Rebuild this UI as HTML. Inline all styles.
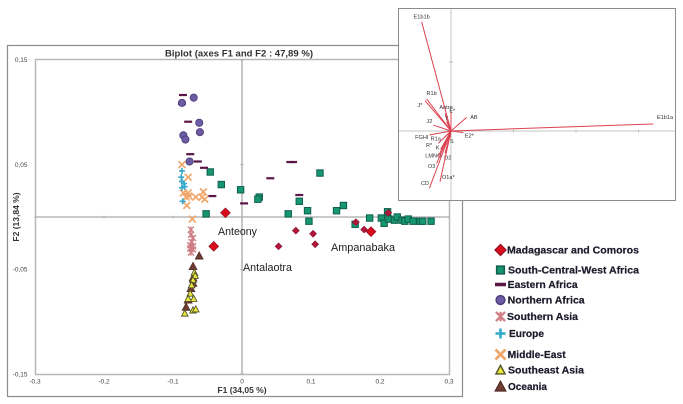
<!DOCTYPE html>
<html lang="en">
<head>
<meta charset="utf-8">
<title>Biplot (axes F1 and F2)</title>
<style>
html,body{margin:0;padding:0;background:#fff;}
body{width:683px;height:404px;overflow:hidden;}
svg{display:block;}
text{font-family:"Liberation Sans",sans-serif;}
</style>
</head>
<body>
<svg id="chart" width="683" height="404" viewBox="0 0 683 404" xmlns="http://www.w3.org/2000/svg">
<defs>
<filter id="soft" x="-5%" y="-5%" width="110%" height="110%"><feGaussianBlur stdDeviation="0.3"/></filter>
</defs>
<rect x="0" y="0" width="683" height="404" fill="#fff"/>
<g id="main" filter="url(#soft)">
<rect x="7.5" y="45.5" width="455" height="351" fill="#fff" stroke="#8c8c8c" stroke-width="1.2"/>
<rect x="35.5" y="59.5" width="414" height="315" fill="#fff" stroke="#b8b8b8" stroke-width="1.5"/>
<text x="239" y="56.5" font-size="9" font-weight="bold" text-anchor="middle" textLength="148" lengthAdjust="spacingAndGlyphs" fill="#333">Biplot (axes F1 and F2 : 47,89 %)</text>
<text x="242" y="393" font-size="8.5" font-weight="bold" text-anchor="middle" fill="#333">F1 (34,05 %)</text>
<text transform="translate(19,217) rotate(-90)" font-size="8.5" font-weight="bold" text-anchor="middle" fill="#333">F2 (13,84 %)</text>
<g id="axes"></g>
<g id="marks"></g>
<text x="218" y="235" font-size="11" textLength="39" lengthAdjust="spacingAndGlyphs" fill="#222">Anteony</text>
<text x="243" y="271" font-size="11" textLength="49" lengthAdjust="spacingAndGlyphs" fill="#222">Antalaotra</text>
<text x="331" y="251" font-size="11" textLength="64" lengthAdjust="spacingAndGlyphs" fill="#222">Ampanabaka</text>
</g>
<g id="inset" filter="url(#soft)">
<rect x="398.5" y="8.5" width="277" height="192" fill="#fff" stroke="#8c8c8c" stroke-width="1"/>
</g>
<g id="legend" filter="url(#soft)"></g>
</svg>
<script>
// Tick labels
const xTicks = [-0.3, -0.2, -0.1, 0, 0.1, 0.2, 0.3];
const yTicks = [0.15, 0.05, -0.05, -0.15];
const insetXTicks = [0.5, 1, 1.5];
const insetYTicks = [0.5];

// Series values as [F1, F2]
const madagascarMajor = [[-0.024,0.004],[-0.041,-0.028],[0.187,-0.014]];
const madagascarMinor = [[0.078,-0.013],[0.103,-0.016],[0.106,-0.026],[0.053,-0.028],[0.165,-0.005],[0.177,-0.012],[0.212,0.004]];
const southCentralWestAfrica = [[-0.046,0.043],[-0.030,0.031],[-0.002,0.026],[0.025,0.019],[0.023,0.017],[-0.052,0.003],[0.067,0.003],[0.083,0.015],[0.095,0.006],[0.097,-0.004],[0.113,0.042],[0.137,0.006],[0.147,0.011],[0.164,-0.007],[0.185,-0.001],[0.202,-0.001],[0.211,0.005],[0.206,-0.006],[0.213,-0.002],[0.221,-0.003],[0.225,0],[0.232,-0.003],[0.236,-0.004],[0.241,-0.002],[0.248,-0.004],[0.258,-0.004],[0.262,-0.004],[0.274,-0.004]];
const easternAfrica = [[-0.0855,0.1165],[-0.087,0.108],[-0.078,0.091],[-0.075,0.060],[-0.064,0.053],[-0.055,0.047],[-0.043,0.020],[0.003,0.013],[0.041,0.037],[0.070,0.0525],[0.074,0.0525],[0.083,0.021]];
const northernAfrica = [[-0.070,0.114],[-0.087,0.109],[-0.062,0.090],[-0.061,0.081],[-0.085,0.078],[-0.082,0.074],[-0.076,0.053]];
const southernAsia = [[-0.074,-0.012],[-0.074,-0.017],[-0.071,-0.020],[-0.073,-0.024],[-0.075,-0.027],[-0.071,-0.028],[-0.075,-0.030],[-0.071,-0.031],[-0.074,-0.034]];
const europe = [[-0.087,0.044],[-0.088,0.038],[-0.087,0.034],[-0.084,0.032],[-0.087,0.028],[-0.083,0.029],[-0.086,0.015]];
const middleEast = [[-0.087,0.050],[-0.078,0.038],[-0.085,0.023],[-0.078,0.023],[-0.077,0.020],[-0.081,0.019],[-0.067,0.019],[-0.056,0.024],[-0.058,0.019],[-0.054,0.017],[-0.080,0.011],[-0.072,-0.002]];
const oceania = [[-0.062,-0.037],[-0.071,-0.047],[-0.071,-0.058],[-0.071,-0.063],[-0.074,-0.068],[-0.078,-0.079],[-0.081,-0.086]];
const southeastAsia = [[-0.069,-0.053],[-0.068,-0.056],[-0.071,-0.060],[-0.073,-0.065],[-0.075,-0.073],[-0.078,-0.078],[-0.070,-0.078],[-0.083,-0.092],[-0.071,-0.089],[-0.067,-0.088]];

// Inset loading vectors
const vectorNames = ["E1b1b","E1b1a","R1b","J*","Autre","E*","T","AB","J2","FGHI","R1a","R*","K","LMNO","O2","O3","CD","O1a*","S","E2*"];
const vectorF1 = [-0.235,1.619,-0.195,-0.208,-0.048,0,-0.035,0.125,-0.141,-0.173,-0.053,-0.101,-0.083,-0.101,-0.048,-0.115,-0.173,-0.088,-0.008,0.099];
const vectorF2 = [0.792,0.051,0.232,0.220,0.128,0.14,0.068,0.099,0.043,-0.029,-0.046,-0.089,-0.133,-0.181,-0.162,-0.234,-0.415,-0.367,-0.053,-0.012];

// Legend labels
const legendLabels = ["Madagascar and Comoros","South-Central-West Africa","Eastern Africa","Northern Africa","Southern Asia","Europe","Middle-East","Southeast Asia","Oceania"];

const NS = "http://www.w3.org/2000/svg";
const xScale = v => 242 + v * 690;
const yScale = v => 217 - v * 1047;
const insetX = v => 451 + v * 125;
const insetY = v => 131 - v * 138;
const fmt = v => String(v).replace(".", ",");

function make(parent, tag, attrs) {
  const el = document.createElementNS(NS, tag);
  for (const k in attrs) el.setAttribute(k, attrs[k]);
  parent.appendChild(el);
  return el;
}

function drawShape(parent, kind, x, y, size, weight) {
  const s = size;
  const w = weight || 1;
  if (kind === "diamond") {
    return make(parent, "polygon", {points:`${x},${y-s} ${x+s},${y} ${x},${y+s} ${x-s},${y}`, fill:s > 4 ? "#d9101f" : "#b5143a", stroke:s > 4 ? "#9c1020" : "#8f1233", "stroke-width":0.8*w});
  }
  if (kind === "square") {
    return make(parent, "rect", {x:x-s, y:y-s, width:s*2, height:s*2, fill:"#17976f", stroke:"#0f5f50", "stroke-width":1*w});
  }
  if (kind === "dash") {
    return make(parent, "rect", {x:x-s, y:y-1.1*w, width:s*2, height:2.2*w, fill:"#5c1746"});
  }
  if (kind === "circle") {
    return make(parent, "circle", {cx:x, cy:y, r:s, fill:"#6d5ca3", stroke:"#4b3c7a", "stroke-width":0.9*w});
  }
  if (kind === "star") {
    return make(parent, "path", {d:`M${x-s} ${y-s}L${x+s} ${y+s}M${x-s} ${y+s}L${x+s} ${y-s}M${x} ${y-s}L${x} ${y+s}`, fill:"none", stroke:"#cf7f85", "stroke-width":1.4*w});
  }
  if (kind === "plus") {
    return make(parent, "path", {d:`M${x-s} ${y}L${x+s} ${y}M${x} ${y-s}L${x} ${y+s}`, fill:"none", stroke:"#33a8cc", "stroke-width":1.6*w});
  }
  if (kind === "cross") {
    return make(parent, "path", {d:`M${x-s} ${y-s}L${x+s} ${y+s}M${x-s} ${y+s}L${x+s} ${y-s}`, fill:"none", stroke:"#f1a66a", "stroke-width":1.7*w});
  }
  if (kind === "yellowTriangle") {
    return make(parent, "polygon", {points:`${x},${y-s} ${x+s},${y+s*0.85} ${x-s},${y+s*0.85}`, fill:"#e9e93c", stroke:"#55552a", "stroke-width":0.9*w});
  }
  return make(parent, "polygon", {points:`${x},${y-s} ${x+s},${y+s*0.85} ${x-s},${y+s*0.85}`, fill:"#6f3b30", stroke:"#4c2a22", "stroke-width":0.7*w});
}

// Main axes
const axes = document.getElementById("axes");
const xAxisLine = make(axes, "line", {x1:35, x2:449, y1:yScale(0), y2:yScale(0), stroke:"#b8b8b8", "stroke-width":1.4});


const yAxisLine = make(axes, "line", {x1:xScale(0), x2:xScale(0), y1:59, y2:374, stroke:"#b8b8b8", "stroke-width":1.6});


xTicks.forEach(v => {
  const t = make(axes, "text", {x:xScale(v), y:383.5, "font-size":6.5, "text-anchor":"middle", fill:"#444"});
  t.textContent = fmt(v);
  
  
  const m = make(axes, "line", {x1:xScale(v), x2:xScale(v), y1:215.5, y2:218.5, stroke:"#aaa", "stroke-width":0.7});
  
  
});
yTicks.forEach(v => {
  const t = make(axes, "text", {x:27.5, y:yScale(v) + 2.2, "font-size":6.5, "text-anchor":"end", fill:"#444"});
  t.textContent = fmt(v);
  
  
  const m = make(axes, "line", {x1:240, x2:244, y1:yScale(v), y2:yScale(v), stroke:"#aaa", "stroke-width":0.7});
  
  
});

// Data points
const marks = document.getElementById("marks");
function plot(points, kind, size, name) {
  points.forEach(p => {
    const el = drawShape(marks, kind, xScale(p[0]), yScale(p[1]), size);
    
    
  });
}
plot(southCentralWestAfrica, "square", 3.2, "south-central-west-africa-point");
plot(easternAfrica, "dash", 4, "eastern-africa-point");
plot(northernAfrica, "circle", 3.6, "northern-africa-point");
plot(southernAsia, "star", 3, "southern-asia-point");
plot(middleEast, "cross", 3.4, "middle-east-point");
plot(europe, "plus", 3, "europe-point");
plot(oceania, "darkTriangle", 4, "oceania-point");
plot(southeastAsia, "yellowTriangle", 3.3, "southeast-asia-point");
plot(madagascarMinor, "diamond", 3.3, "madagascar-comoros-point");
plot(madagascarMajor, "diamond", 4.8, "madagascar-comoros-point");

// Inset
const inset = document.getElementById("inset");
const insetXAxis = make(inset, "line", {x1:399, x2:675, y1:insetY(0), y2:insetY(0), stroke:"#c4c4c4", "stroke-width":1});


const insetYAxis = make(inset, "line", {x1:insetX(0), x2:insetX(0), y1:9, y2:200, stroke:"#c4c4c4", "stroke-width":1});


insetXTicks.forEach(v => {
  const m = make(inset, "line", {x1:insetX(v), x2:insetX(v), y1:129.5, y2:132.5, stroke:"#aaa", "stroke-width":0.7});
  
  
});
insetYTicks.forEach(v => {
  const m = make(inset, "line", {x1:449, x2:453, y1:insetY(v), y2:insetY(v), stroke:"#aaa", "stroke-width":0.7});
  
  
});
const labelNudge = {
  "E1b1b":[0,-5],"E1b1a":[11.7,-7],"R1b":[5,-5.7],"J*":[-5,4.3],"Autre":[1,-6],"E*":[1.3,-1],"T":[0,-3],"AB":[7.3,0],"J2":[-4,-4],"FGHI":[-7.6,2.3],
  "R1a":[-8.6,1.4],"R*":[-9.3,2],"K":[-3,-1.6],"LMNO":[-5,-0.3],"O2":[2.7,4],"O3":[-5,2.7],"CD":[-4.3,-5],"O1a*":[8.3,-4.7],"S":[1.7,3],"E2*":[6,3]
};
vectorNames.forEach((n, i) => {
  const ex = insetX(vectorF1[i]), ey = insetY(vectorF2[i]);
  const line = make(inset, "line", {x1:insetX(0), y1:insetY(0), x2:ex, y2:ey, stroke:"#dc4250", "stroke-width":1});
  
  
  const nudge = labelNudge[n];
  const t = make(inset, "text", {x:ex + nudge[0], y:ey + nudge[1] + 1.9, "font-size":5.6, "text-anchor":"middle", fill:"#333"});
  t.textContent = n;
  
  
});

// Legend
const legend = document.getElementById("legend");
const legendKinds = ["diamond","square","dash","circle","star","plus","cross","yellowTriangle","darkTriangle"];
const legendSizes = [5.5,3.8,5.5,4.4,4.6,5,5,4.6,5.4];
const legendLeft = [507,508,507.7,507.7,507,509,507.7,508,508];
const legendWide = [132,131,70,77,71,35,58,76,39];
const legendMid = [250,270,284.5,300,316.5,333.5,354.5,370,386.5];
legendLabels.forEach((label, i) => {
  const icon = drawShape(legend, legendKinds[i], 500.5, legendMid[i], legendSizes[i], 1.6);
  
  
  const t = make(legend, "text", {x:legendLeft[i], y:legendMid[i] + 3.6, "font-size":10, "font-weight":"bold", fill:"#1a1a2a", stroke:"#1a1a2a", "stroke-width":0.2, textLength:legendWide[i], lengthAdjust:"spacingAndGlyphs"});
  t.textContent = label;
  
  
});
</script>
</body>
</html>
